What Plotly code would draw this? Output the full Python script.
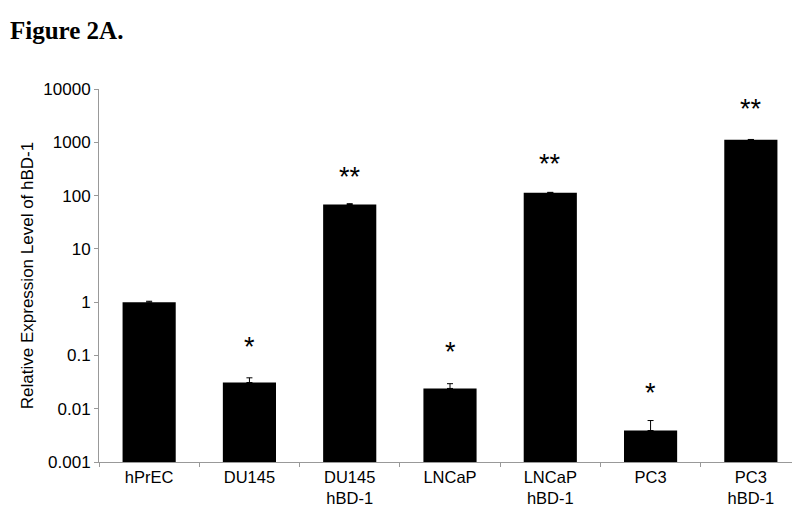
import math
import plotly.graph_objects as go

categories = ["hPrEC", "DU145", "DU145<br>hBD-1", "LNCaP", "LNCaP<br>hBD-1", "PC3", "PC3<br>hBD-1"]
expression = [1.0, 0.031, 68, 0.024, 113, 0.0039, 1120]
error_up = [0.04, 0.007, 2.5, 0.0055, 2.0, 0.0021, 10]
stars = ["", "*", "**", "*", "**", "*", "**"]
star_level = [None, 0.146, 226, 0.118, 395, 0.0194, 4200]

tick_vals = [0.001, 0.01, 0.1, 1, 10, 100, 1000, 10000]
tick_text = ["0.001", "0.01", "0.1", "1", "10", "100", "1000", "10000"]

fig = go.Figure()
fig.add_trace(go.Bar(
    x=categories, y=expression,
    marker=dict(color="black", line=dict(width=0)),
    width=0.53,
    error_y=dict(type="data", array=error_up, arrayminus=[0] * len(error_up),
                 symmetric=False, color="black", thickness=1, width=3),
))

for cat, s, lvl in zip(categories, stars, star_level):
    if not s:
        continue
    fig.add_annotation(x=cat, y=math.log10(lvl), text=s, showarrow=False,
                       font=dict(family="Liberation Sans, Arial", size=27, color="black"),
                       yanchor="middle")

fig.add_annotation(xref="paper", yref="paper", x=-0.13, y=1.0, xanchor="left", yanchor="bottom",
                   yshift=43, text="<b>Figure 2A.</b>", showarrow=False,
                   font=dict(family="Liberation Serif, Times New Roman", size=25, color="black"))

fig.update_layout(
    width=800, height=511,
    margin=dict(l=91, r=7, t=81, b=57),
    plot_bgcolor="white", paper_bgcolor="white",
    showlegend=False,
    font=dict(family="Liberation Sans, Arial", size=17, color="black"),
    xaxis=dict(showline=True, linecolor="#999999", linewidth=1, ticks="outside",
               tickson="boundaries", ticklen=4, tickcolor="#999999",
               tickfont=dict(size=16.5)),
    yaxis=dict(type="log", range=[-3, 4], showline=True, linecolor="#999999", linewidth=1,
               ticks="outside", ticklen=4, tickcolor="#999999", showgrid=False, zeroline=False,
               tickvals=tick_vals, ticktext=tick_text, tickfont=dict(size=17),
               title=dict(text="Relative Expression Level of hBD-1", font=dict(size=17), standoff=5)),
)

fig.write_html("out.html")
